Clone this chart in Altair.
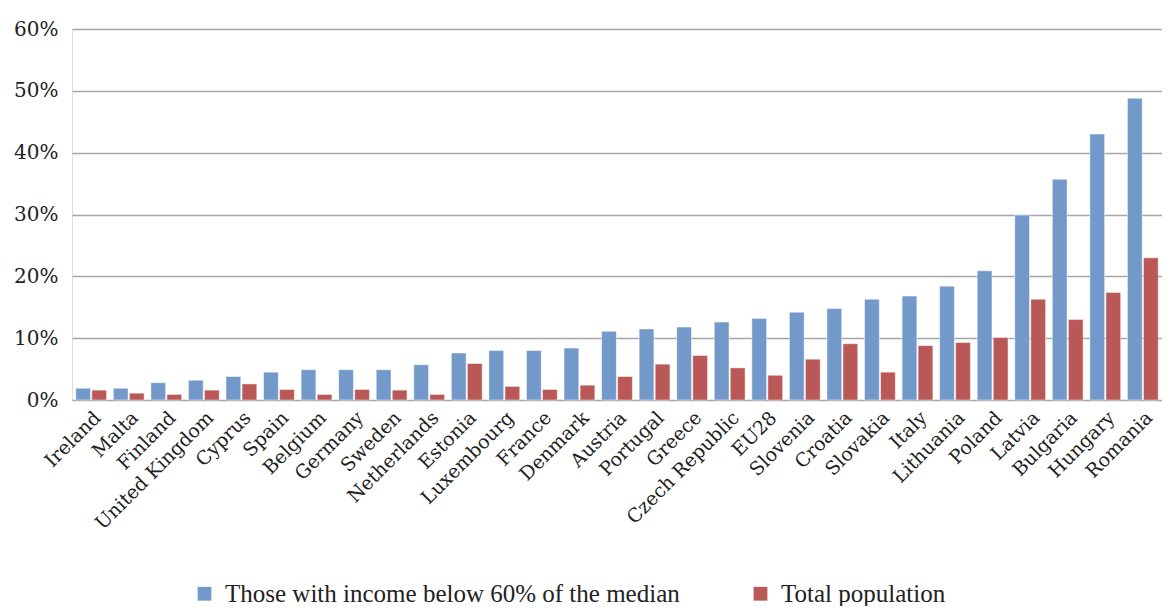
import altair as alt
import pandas as pd

countries = ["Ireland", "Malta", "Finland", "United Kingdom", "Cyprus", "Spain", "Belgium",
             "Germany", "Sweden", "Netherlands", "Estonia", "Luxembourg", "France", "Denmark",
             "Austria", "Portugal", "Greece", "Czech Republic", "EU28", "Slovenia", "Croatia",
             "Slovakia", "Italy", "Lithuania", "Poland", "Latvia", "Bulgaria", "Hungary", "Romania"]
below60 = [1.9, 1.9, 2.8, 3.2, 3.8, 4.5, 4.9, 4.9, 4.9, 5.7, 7.6, 8.0, 8.0, 8.4, 11.1, 11.5,
           11.8, 12.6, 13.2, 14.2, 14.8, 16.3, 16.8, 18.4, 20.9, 29.9, 35.7, 43.0, 48.8]
total = [1.6, 1.1, 0.9, 1.6, 2.6, 1.7, 0.9, 1.7, 1.6, 0.9, 5.9, 2.2, 1.7, 2.4, 3.8, 5.8,
         7.2, 5.2, 4.0, 6.6, 9.1, 4.5, 8.8, 9.3, 10.1, 16.3, 13.0, 17.4, 23.0]
series_names = ["Those with income below 60% of the median", "Total population"]
colors = ["#7398CA", "#B95856"]

rows = []
for c, a, b in zip(countries, below60, total):
    rows.append({"country": c, "series": series_names[0], "value": a / 100})
    rows.append({"country": c, "series": series_names[1], "value": b / 100})
df = pd.DataFrame(rows)

chart = alt.Chart(df).mark_bar(stroke="#ffffff", strokeWidth=0.8, strokeOpacity=0.6).encode(
    x=alt.X("country:N", sort=countries, title=None,
            scale=alt.Scale(paddingInner=0.18, paddingOuter=0.1),
            axis=alt.Axis(labelAngle=-45, labelAlign="right", labelBaseline="top",
                          labelFont="DejaVu Serif", labelFontSize=19, labelColor="#222222",
                          labelPadding=8, ticks=False, domain=False, grid=False)),
    xOffset=alt.XOffset("series:N", sort=series_names, scale=alt.Scale(paddingInner=0.08)),
    y=alt.Y("value:Q", title=None,
            scale=alt.Scale(domain=[0, 0.6], nice=False),
            axis=alt.Axis(values=[0, 0.1, 0.2, 0.3, 0.4, 0.5, 0.6], format=".0%",
                          labelFont="DejaVu Serif", labelFontSize=20, labelColor="#222222",
                          labelPadding=14, ticks=False, domain=False,
                          grid=True, gridColor="#A6A6A6", gridWidth=1.5)),
    color=alt.Color("series:N", sort=series_names,
                    scale=alt.Scale(domain=series_names, range=colors),
                    legend=alt.Legend(title=None, orient="none", direction="horizontal",
                                      legendX=120, legendY=552,
                                      symbolType="square", symbolSize=190, symbolStrokeWidth=0,
                                      labelFont="Liberation Serif", labelFontSize=25,
                                      labelColor="#222222", labelOffset=8, columnPadding=68,
                                      labelLimit=600)),
).properties(
    width=1090, height=371,
    autosize=alt.AutoSizeParams(type="none"),
    padding={"left": 64, "top": 21, "right": 0, "bottom": 206},
).configure_view(stroke=None).configure(background="#ffffff")

chart.save("out.html", embed_options={"renderer": "svg", "actions": False})
